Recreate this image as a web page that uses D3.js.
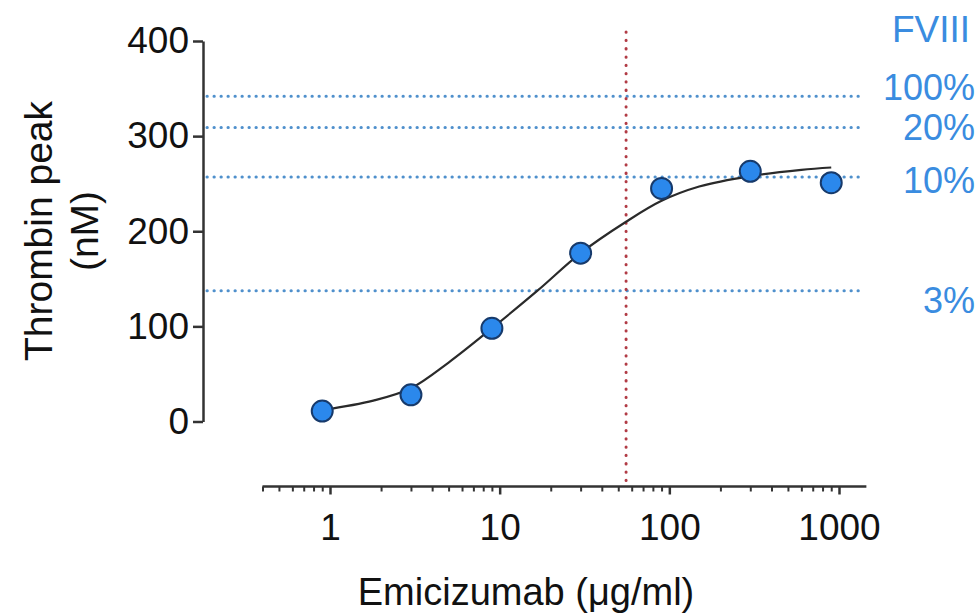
<!DOCTYPE html>
<html>
<head>
<meta charset="utf-8">
<script src="https://cdn.jsdelivr.net/npm/d3@7"></script>
<style>
  body { margin: 0; background: #fff; }
  svg text { font-family: "Liberation Sans", Arial, sans-serif; }
</style>
</head>
<body>
<svg id="chart"></svg>
<script>
// measured points
const doses = [0.9, 3, 9, 30, 90, 300, 900];
const thrombinPeak = [11, 28, 98, 177, 245, 263, 251];

// fitted curve
const fitDoses = [0.9, 1.8, 3, 5, 9, 16.7, 30, 55.6, 90, 150, 300, 600, 900];
const fitPeak = [12, 22, 35, 62, 98, 137.5, 177, 210, 232, 247, 258, 264.5, 267];

// FVIII reference levels
const fviiiLevels = ["100%", "20%", "10%", "3%"];
const fviiiPeak = [342, 309, 257, 137.5];

const markerDose = 55.6;
const xTickValues = [1, 10, 100, 1000];
const yTickValues = [0, 100, 200, 300, 400];

const svgWidth = 980;
const svgHeight = 615;
const axisColor = "#333333";
const blue = "#3a8ce0";
// labels sit a bit off their lines in the original
const labelShift = [-9, 0, 3, 10];

var svg = d3.select("#chart")
    .attr("width", svgWidth)
    .attr("height", svgHeight);

var x = d3.scaleLog().domain([1, 1000]).range([330, 839]);
var y = d3.scaleLinear().domain([0, 400]).range([421.5, 41]);

const yAxisX = 203;
const xAxisY = 486.5;
const xStart = 0.4, xEnd = 1450;

// minor ticks of the log axis
var minorTicks = [];
[0.1, 1, 10, 100].forEach(function(dec) {
    for (var k = 2; k <= 9; k++) {
        var v = dec * k;
        if (v >= xStart && v <= xEnd) minorTicks.push(v);
    }
});

// reference lines (drawn first)
svg.append("g").selectAll("line")
    .data(fviiiPeak)
    .enter()
    .append("line")
    .attr("x1", yAxisX + 4)
    .attr("x2", 862)
    .attr("y1", d => y(d))
    .attr("y2", d => y(d))
    .attr("stroke", "#4f90cc")
    .attr("stroke-width", 3)
    .attr("stroke-linecap", "round")
    .attr("stroke-dasharray", "0.3,6.7");

svg.append("line")
    .attr("x1", x(markerDose))
    .attr("x2", x(markerDose))
    .attr("y1", 32)
    .attr("y2", xAxisY)
    .attr("stroke", "#b13b45")
    .attr("stroke-width", 3)
    .attr("stroke-linecap", "round")
    .attr("stroke-dasharray", "0.3,8");

// y axis
var yAxis = svg.append("g")
    .attr("transform", "translate(" + yAxisX + ",0)")
    .call(d3.axisLeft(y).tickValues(yTickValues).tickSize(10).tickSizeOuter(0).tickPadding(4));
yAxis.select(".domain").attr("stroke", axisColor).attr("stroke-width", 2.5);
yAxis.selectAll(".tick line").attr("stroke", axisColor).attr("stroke-width", 2.5);
yAxis.selectAll(".tick text")
    .attr("fill", "#111")
    .style("font-size", "37px");

// x axis
svg.append("line")
    .attr("x1", x(xStart))
    .attr("x2", x(xEnd))
    .attr("y1", xAxisY)
    .attr("y2", xAxisY)
    .attr("stroke", axisColor)
    .attr("stroke-width", 2.5);

var xMinor = svg.append("g")
    .attr("transform", "translate(0," + xAxisY + ")")
    .call(d3.axisBottom(x).tickValues(minorTicks).tickSize(5).tickFormat(""));
xMinor.select(".domain").remove();
xMinor.selectAll(".tick line").attr("stroke", axisColor).attr("stroke-width", 2);

var xMajor = svg.append("g")
    .attr("transform", "translate(0," + xAxisY + ")")
    .call(d3.axisBottom(x).tickValues(xTickValues).tickSize(8).tickPadding(19).tickFormat(d3.format("d")));
xMajor.select(".domain").remove();
xMajor.selectAll(".tick line").attr("stroke", axisColor).attr("stroke-width", 2.5);
xMajor.selectAll(".tick text")
    .attr("fill", "#111")
    .style("font-size", "37px");

// axis titles
svg.append("text")
    .attr("x", 526)
    .attr("y", 605)
    .attr("text-anchor", "middle")
    .attr("fill", "#111")
    .style("font-size", "38px")
    .text("Emicizumab (\u03bcg/ml)");

svg.append("text")
    .attr("transform", "translate(52,231) rotate(-90)")
    .attr("text-anchor", "middle")
    .attr("fill", "#111")
    .style("font-size", "39px")
    .text("Thrombin peak");

svg.append("text")
    .attr("transform", "translate(98,231) rotate(-90)")
    .attr("text-anchor", "middle")
    .attr("fill", "#111")
    .style("font-size", "39px")
    .text("(nM)");

// fitted curve
var fit = fitDoses.map((d, i) => [d, fitPeak[i]]);
var line = d3.line()
    .x(d => x(d[0]))
    .y(d => y(d[1]))
    .curve(d3.curveCatmullRom.alpha(0.5));

svg.append("path")
    .datum(fit)
    .attr("d", line)
    .attr("fill", "none")
    .attr("stroke", "#2a2a2a")
    .attr("stroke-width", 2.2);

// data points
svg.append("g").selectAll("circle")
    .data(doses.map((d, i) => [d, thrombinPeak[i]]))
    .enter()
    .append("circle")
    .attr("cx", d => x(d[0]))
    .attr("cy", d => y(d[1]))
    .attr("r", 10.5)
    .attr("fill", "#2b88ec")
    .attr("stroke", "#173a6b")
    .attr("stroke-width", 2);

// FVIII labels
svg.append("text")
    .attr("x", 970)
    .attr("y", 29)
    .attr("dy", "0.35em")
    .attr("text-anchor", "end")
    .attr("fill", blue)
    .style("font-size", "37px")
    .text("FVIII");

svg.append("g").selectAll("text")
    .data(fviiiLevels)
    .enter()
    .append("text")
    .attr("x", 975)
    .attr("y", (d, i) => y(fviiiPeak[i]) + labelShift[i])
    .attr("dy", "0.35em")
    .attr("text-anchor", "end")
    .attr("fill", blue)
    .style("font-size", "36px")
    .text(d => d);
</script>
</body>
</html>
